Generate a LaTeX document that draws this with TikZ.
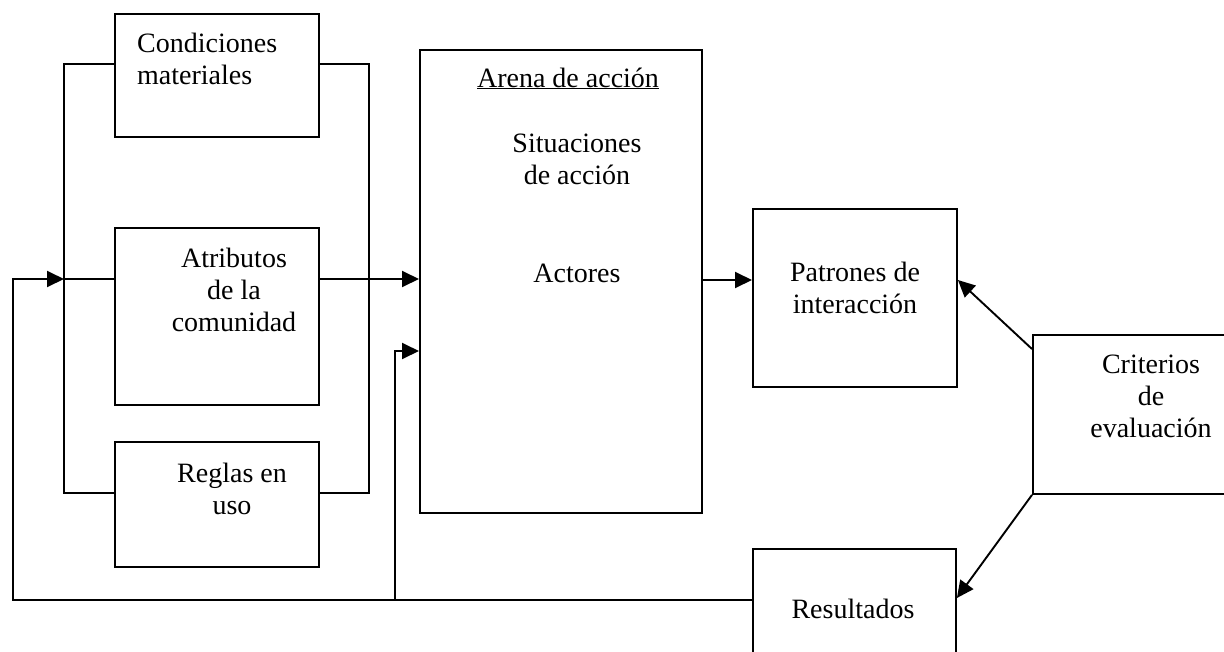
\documentclass[tikz,border=0pt]{standalone}
\usepackage{fontspec}
\setmainfont{Liberation Serif}
\usetikzlibrary{arrows.meta}
\begin{document}
\begin{tikzpicture}[x=1pt,y=-1pt,
  box/.style={draw,line width=1.9pt,inner sep=0pt,anchor=north west},
  lbl/.style={anchor=base,align=center,inner sep=0pt,font=\fontsize{28}{32}\selectfont},
  conn/.style={line width=1.9pt},
  arr/.style={line width=1.9pt,-{Triangle[length=17pt,width=16pt]}}]
\useasboundingbox (0,0) rectangle (1224,651);
\fill[white] (0,0) rectangle (1224,651);
\clip (0,0) rectangle (1224,651);
% boxes
\node[box,minimum width=204pt,minimum height=123pt] (cond) at (114,13) {};
\node[box,minimum width=204pt,minimum height=177pt] (atr) at (114,227) {};
\node[box,minimum width=204pt,minimum height=125pt] (regl) at (114,441) {};
\node[box,minimum width=282pt,minimum height=463pt] (arena) at (419,49) {};
\node[box,minimum width=204pt,minimum height=178pt] (patr) at (752,208) {};
\node[box,minimum width=230pt,minimum height=159pt] (crit) at (1032,334) {};
\node[box,minimum width=203pt,minimum height=130pt] (res) at (752,548) {};
% labels (base anchor = baseline of last line)
\node[lbl,anchor=base west,align=left] (tcond) at (137,84) {Condiciones\\materiales};
\node[lbl] (tatr) at (234,331) {Atributos\\de la\\comunidad};
\node[lbl] (tregl) at (232,514) {Reglas en\\uso};
\node[lbl] (tarena) at (568,87) {\underline{Arena de acción}};
\node[lbl] (tsit) at (577,184) {Situaciones\\de acción};
\node[lbl] (tact) at (577,282) {Actores};
\node[lbl] (tpatr) at (855,313) {Patrones de\\interacción};
\node[lbl] (tcrit) at (1151,437) {Criterios\\de\\evaluación};
\node[lbl] (tres) at (853,618) {Resultados};
% connectors
\coordinate (LT) at (64,64);
\coordinate (LB) at (64,493);
\coordinate (RT) at (369,64);
\coordinate (RB) at (369,493);
\coordinate (J) at (64,279);
\coordinate (FL) at (13,600);
\coordinate (FM) at (395,600);
\coordinate (FU) at (395,351);
\coordinate (P) at (701,280);
\draw[conn] (cond.west |- LT) -- (LT) -- (LB) -- (regl.west |- LB);
\draw[conn] (cond.east |- RT) -- (RT) -- (RB) -- (regl.east |- RB);
\draw[conn] (J) -- (atr.west |- J);
\draw[arr] (atr.east |- J) -- (arena.west |- J);
\draw[arr] (res.west |- FL) -- (FL) -- (FL |- J) -- (J);
\draw[arr] (FM) -- (FU) -- (arena.west |- FU);
\draw[arr] (arena.east |- P) -- (patr.west |- P);
\draw[arr] ([yshift=-15pt]crit.north west) -- ([yshift=-72pt]patr.north east);
\draw[arr] (crit.south west) -- ([yshift=-50pt]res.north east);
\end{tikzpicture}
\end{document}
